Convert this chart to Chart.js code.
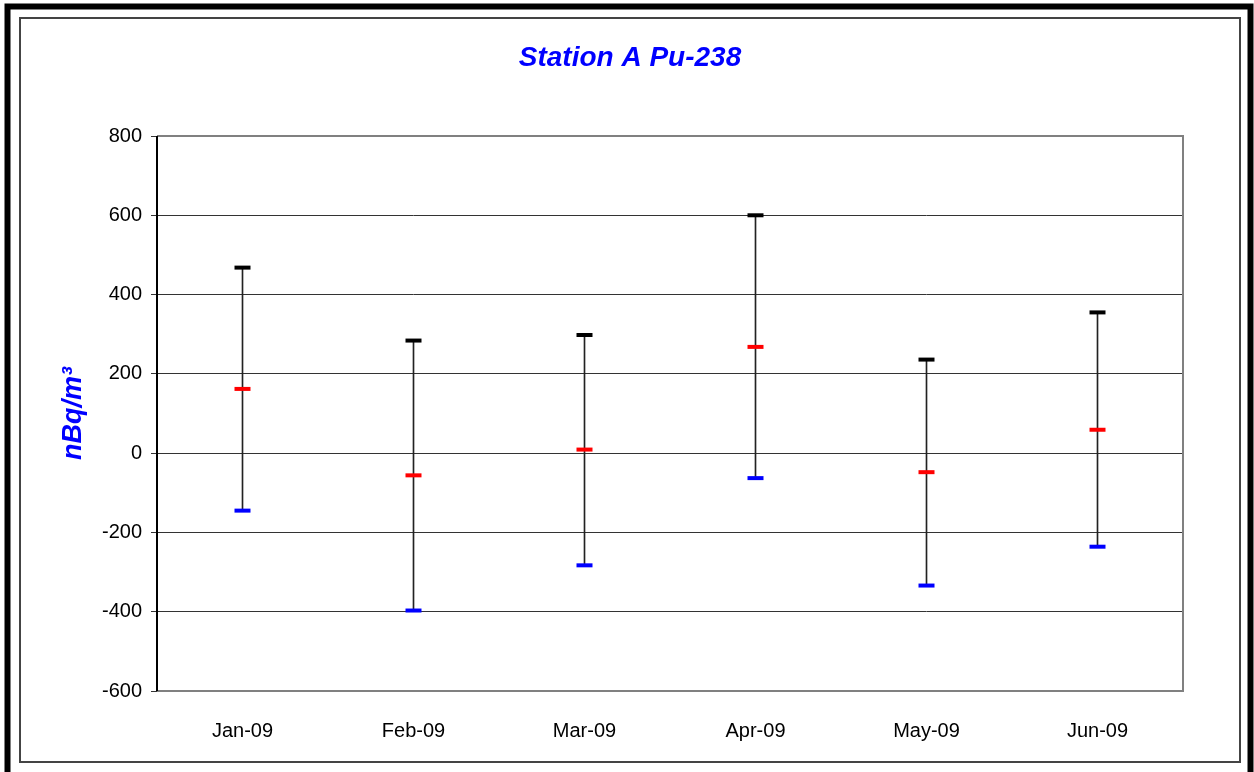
<!DOCTYPE html>
<html>
<head>
<meta charset="utf-8">
<script src="https://cdn.jsdelivr.net/npm/chart.js@4"></script>
<style>
  html, body { margin: 0; padding: 0; background: #fff; }
  #wrap { width: 1254px; height: 772px; position: relative; }
</style>
</head>
<body>
<div id="wrap"><canvas id="grafico" width="1254" height="772"></canvas></div>
<script>
// dados
const meses = ["Jan-09", "Feb-09", "Mar-09", "Apr-09", "May-09", "Jun-09"];
const valoresAlto = [468, 284, 298, 600, 236, 355];
const valoresResultado = [162, -56, 9, 268, -48, 59];
const valoresBaixo = [-145, -397, -283, -63, -334, -236];
const ticksY = [-600, -400, -200, 0, 200, 400, 600, 800];
const titulo = "Station A Pu-238";

const fonte = "'Liberation Sans', Arial, sans-serif";

// molduras, titulo e borda da area do grafico
const molduraPlugin = {
  id: "moldura",
  beforeDraw(chart) {
    const ctx = chart.ctx;
    ctx.save();
    ctx.fillStyle = "#fff";
    ctx.fillRect(0, 0, chart.width, chart.height);
    ctx.strokeStyle = "#000";
    ctx.lineWidth = 6;
    ctx.strokeRect(7.5, 6.5, 1243, 780);
    ctx.strokeStyle = "#444";
    ctx.lineWidth = 2;
    ctx.strokeRect(20, 18, 1220, 744);
    // titulo centrado na moldura interna
    ctx.fillStyle = "#0000ff";
    ctx.font = "italic bold 28px " + fonte;
    ctx.textAlign = "center";
    ctx.textBaseline = "middle";
    ctx.fillText(titulo, 630, 58);
    ctx.restore();
  },
  afterDatasetsDraw(chart) {
    const { ctx, chartArea: a } = chart;
    ctx.save();
    ctx.strokeStyle = "#808080";
    ctx.lineWidth = 2;
    ctx.beginPath();
    ctx.moveTo(a.left, a.top);
    ctx.lineTo(a.right, a.top);
    ctx.lineTo(a.right, a.bottom);
    ctx.lineTo(a.left, a.bottom);
    ctx.stroke();
    ctx.strokeStyle = "#000";
    ctx.beginPath();
    ctx.moveTo(a.left, a.top);
    ctx.lineTo(a.left, a.bottom);
    ctx.stroke();
    ctx.restore();
  },
};

const capa = (label, dados, cor) => ({
  type: "line",
  label: label,
  data: dados,
  showLine: false,
  pointStyle: "line",
  pointRadius: 8,
  pointBorderWidth: 4,
  pointBorderColor: cor,
  pointBackgroundColor: cor,
  borderColor: cor,
  order: 1,
});

new Chart(document.getElementById("grafico"), {
  data: {
    labels: meses,
    datasets: [
      {
        type: "bar",
        label: "faixa",
        data: valoresBaixo.map((v, i) => [v, valoresAlto[i]]),
        backgroundColor: "#222",
        barThickness: 1,
        order: 2,
      },
      capa("Alto", valoresAlto, "#000"),
      capa("Resultado", valoresResultado, "#ff0000"),
      capa("Baixo", valoresBaixo, "#0000ff"),
    ],
  },
  options: {
    responsive: false,
    animation: false,
    layout: { padding: { top: 136, left: 30, right: 71, bottom: 10 } },
    plugins: {
      legend: { display: false },
      tooltip: { enabled: false },
      title: { display: false },
    },
    scales: {
      x: {
        offset: true,
        grid: { display: false },
        border: { display: false },
        ticks: { color: "#000", padding: 20, font: { family: fonte, size: 20 } },
        afterFit: (s) => { s.height = 71; },
      },
      y: {
        min: -600,
        max: 800,
        afterBuildTicks: (s) => { s.ticks = ticksY.map((v) => ({ value: v })); },
        grid: { color: "#333", lineWidth: 1, tickLength: 6 },
        border: { display: false },
        ticks: { color: "#000", padding: 9, font: { family: fonte, size: 20 } },
        title: {
          display: true,
          text: "nBq/m\u00b3",
          color: "#0000ff",
          font: { family: fonte, size: 27, weight: "bold", style: "italic", lineHeight: 1.2 },
          padding: { top: 27, bottom: 0 },
        },
        afterFit: (s) => { s.width = 127; },
      },
    },
  },
  plugins: [molduraPlugin],
});
</script>
</body>
</html>
